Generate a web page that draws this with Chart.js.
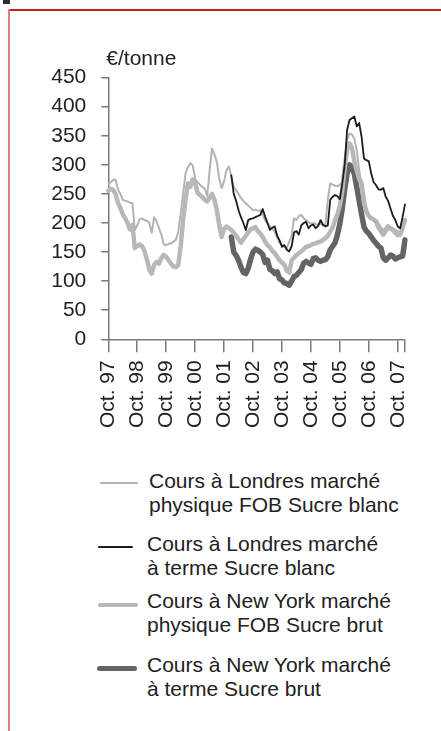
<!DOCTYPE html>
<html>
<head>
<meta charset="utf-8">
<script src="https://cdn.jsdelivr.net/npm/chart.js@4.4.0/dist/chart.umd.min.js"></script>
<style>
html,body{margin:0;padding:0;background:#fff;}
body{width:441px;height:731px;position:relative;overflow:hidden;font-family:"Liberation Sans",Arial,sans-serif;}
#c{position:absolute;left:0;top:0;}
.frame-top{position:absolute;left:8px;top:8.5px;width:433px;height:2px;background:#b4231d;}
.frame-left{position:absolute;left:8px;top:9px;width:2px;height:722px;background:#d98080;}
.mark{position:absolute;left:3px;top:0;width:7px;height:4px;background:#2a2a2a;}
.leg{position:absolute;font-size:21px;line-height:24px;color:#222;white-space:nowrap;}
.sw{position:absolute;border-radius:3px;}
</style>
</head>
<body>
<div class="mark"></div>
<div class="frame-top"></div>
<div class="frame-left"></div>
<canvas id="c" width="441" height="460"></canvas>
<div id="legend"></div>
<script>
// ---- data (monthly, Oct 1997 .. Jan 2008) ----
const unitLabel = "€/tonne";
const monthNames = ["Jan","Feb","Mar","Apr","May","Jun","Jul","Aug","Sep","Oct","Nov","Dec"];
const monthLabels = [];
for (let i = 0; i < 124; i++) {
  const m = (9 + i) % 12;
  const y = 1997 + Math.floor((9 + i) / 12);
  monthLabels.push(monthNames[m] + ". " + String(y).slice(2));
}

const seriesNames = [
  "Cours à Londres marché\nphysique FOB Sucre blanc",
  "Cours à Londres marché\nà terme Sucre blanc",
  "Cours à New York marché\nphysique FOB Sucre brut",
  "Cours à New York marché\nà terme Sucre brut"
];

// London physical FOB white sugar (Oct 97 - Jan 08)
const londonPhysicalWhite = [
  267,270,274,275,258,250,240,238,237,235,
  234,188,196,206,208,205,204,200,183,210,
  203,191,180,163,162,164,165,168,171,185,
  215,250,285,296,303,299,276,270,266,262,
  259,246,290,328,318,305,276,260,272,291,
  297,280,262,256,250,243,238,234,230,226,
  222,223,221,222,214,205,199,194,190,185,
  176,166,162,159,157,168,178,208,205,212,
  214,208,205,201,199,200,198,197,199,196,
  197,240,268,266,264,263,266,270,305,343,
  354,352,345,325,290,268,250,222,212,208,
  204,200,199,193,188,192,197,193,191,188,
  186,185,190,207
];

// New York physical FOB raw sugar (Oct 97 - Jan 08)
const nyPhysicalRaw = [
  255,259,257,250,235,226,215,208,200,189,
  197,157,160,163,160,152,137,120,113,128,
  133,130,140,145,142,136,130,125,124,128,
  160,205,240,268,262,275,270,252,248,245,
  240,237,243,250,240,222,196,176,190,194,
  191,188,183,178,172,166,172,178,184,189,
  191,193,186,182,176,168,162,158,152,148,
  142,136,132,128,118,115,136,140,145,148,
  151,155,159,160,162,164,165,167,168,171,
  174,178,185,192,205,215,230,255,295,325,
  337,330,305,290,276,268,235,220,212,208,
  206,203,192,186,180,186,194,190,188,183,
  179,180,192,205
];

// Futures series start in Jan 02
const futuresStart = "Jan. 02";

// London futures white sugar (Jan 02 - Jan 08)
const londonFuturesWhite = [
  282,250,238,222,210,200,188,205,207,208,
  210,212,214,224,211,200,188,192,194,178,
  170,159,162,154,151,160,184,186,180,196,
  200,202,191,196,197,191,195,205,197,194,
  196,240,245,248,246,241,268,300,360,377,
  380,383,366,372,348,311,308,306,285,270,
  265,258,257,260,245,238,225,212,205,194,
  191,210,232
];

// New York futures raw sugar (Jan 02 - Jan 08)
const nyFuturesRaw = [
  176,150,144,136,124,115,113,122,138,150,
  155,153,150,146,132,136,120,118,113,116,
  104,102,97,96,93,100,108,110,115,120,
  131,134,131,129,139,140,136,134,136,137,
  142,154,160,166,180,199,225,258,285,300,
  296,284,262,238,215,193,186,182,176,170,
  165,160,157,140,136,140,145,143,138,140,
  142,143,171
];

const yTicks = [0,50,100,150,200,250,300,350,400,450];

// ---- styles ----
const styles = [
  {color:"#b3b3b3", width:2,   order:1},
  {color:"#1c1c1c", width:1.8, order:0},
  {color:"#b8b8b8", width:4.5, order:2},
  {color:"#646464", width:5.5, order:3}
];

function fromStart(startLabel, values) {
  const s = monthLabels.indexOf(startLabel);
  return values.map((v, k) => ({x: monthLabels[s + k], y: v}));
}
function full(values) {
  return values.map((v, k) => ({x: monthLabels[k], y: v}));
}

const seriesData = [
  full(londonPhysicalWhite),
  fromStart(futuresStart, londonFuturesWhite),
  full(nyPhysicalRaw),
  fromStart(futuresStart, nyFuturesRaw)
];

const datasets = seriesData.map((d, i) => ({
  label: seriesNames[i],
  data: d,
  borderColor: styles[i].color,
  backgroundColor: styles[i].color,
  borderWidth: styles[i].width,
  order: styles[i].order,
  pointRadius: 0,
  tension: 0,
  fill: false,
  borderJoinStyle: "round",
  borderCapStyle: "round"
}));

const FONT = '"Liberation Sans", Arial, sans-serif';

const unitPlugin = {
  id: "unit",
  afterDraw(chart) {
    const ctx = chart.ctx;
    ctx.save();
    ctx.font = "21px " + FONT;
    ctx.fillStyle = "#222";
    ctx.textBaseline = "alphabetic";
    ctx.textAlign = "left";
    ctx.fillText(unitLabel, chart.chartArea.left - 2, chart.chartArea.top - 12.5);
    ctx.restore();
  }
};

new Chart(document.getElementById("c"), {
  type: "line",
  data: { labels: monthLabels, datasets: datasets },
  options: {
    responsive: false,
    animation: false,
    layout: { padding: { top: 77.6, left: 0, right: 36, bottom: 0 } },
    plugins: { legend: { display: false }, tooltip: { enabled: false } },
    scales: {
      x: {
        type: "category",
        offset: false,
        afterFit(scale) { scale.height = 120.7; },
        afterBuildTicks(scale) {
          scale.ticks = scale.ticks.filter(t =>
            monthLabels[t.value].startsWith("Oct") || t.value === monthLabels.length - 1);
        },
        ticks: {
          autoSkip: false,
          minRotation: 90,
          maxRotation: 90,
          padding: 8,
          color: "#222",
          font: { family: FONT, size: 21 },
          callback(value) {
            const l = monthLabels[value];
            return l.startsWith("Oct") ? l : "";
          }
        },
        grid: { drawOnChartArea: false, drawTicks: true, tickLength: 13, color: "#7a7a7a", lineWidth: 1.5 },
        border: { display: true, color: "#7a7a7a", width: 1.5 }
      },
      y: {
        min: 0,
        max: 450,
        afterFit(scale) { scale.width = 108.3; },
        afterBuildTicks(scale) { scale.ticks = yTicks.map(v => ({value: v})); },
        ticks: {
          padding: 15,
          color: "#222",
          font: { family: FONT, size: 21 }
        },
        grid: { drawOnChartArea: false, drawTicks: true, tickLength: 7, color: "#7a7a7a", lineWidth: 1.5 },
        border: { display: true, color: "#7a7a7a", width: 1.5 }
      }
    }
  },
  plugins: [unitPlugin]
});

// ---- HTML legend ----
const legendPos = [
  {sx:100, sy:482.7, sw:38, tx:149, ty:468.7},
  {sx:98,  sy:547,   sw:35, tx:147, ty:531.7},
  {sx:98,  sy:605,   sw:40, tx:147, ty:588.7},
  {sx:97,  sy:668.5, sw:40, tx:147, ty:652.7}
];
const leg = document.getElementById("legend");
seriesNames.forEach((name, i) => {
  const p = legendPos[i];
  const s = document.createElement("div");
  s.className = "sw";
  const h = styles[i].width;
  s.style.cssText = `left:${p.sx}px;top:${p.sy - h/2}px;width:${p.sw}px;height:${h}px;background:${styles[i].color};`;
  leg.appendChild(s);
  const t = document.createElement("div");
  t.className = "leg";
  t.style.left = p.tx + "px";
  t.style.top = p.ty + "px";
  name.split("\n").forEach((line, k) => {
    if (k) t.appendChild(document.createElement("br"));
    t.appendChild(document.createTextNode(line));
  });
  leg.appendChild(t);
});
</script>
</body>
</html>
